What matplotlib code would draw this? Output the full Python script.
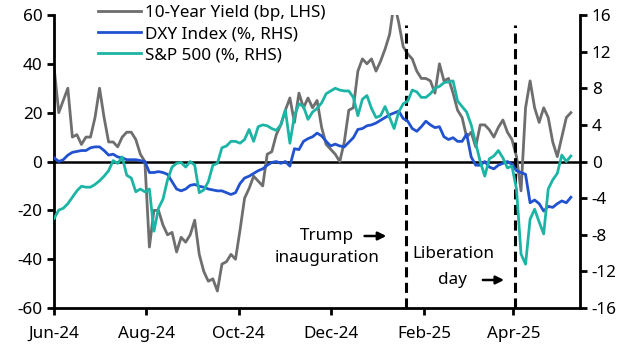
import pandas as pd
import matplotlib.pyplot as plt
import matplotlib.dates as mdates

plt.rcParams['font.family'] = ['Noto Sans', 'DejaVu Sans']
plt.rcParams['axes.unicode_minus'] = False

# data (sampled every 3 days from 1 Jun 2024)
dates = pd.date_range('2024-06-01', periods=115, freq='3D')

yield_bp = [38, 20, 25, 30, 10, 11, 7, 10, 10, 18,
            30, 18, 8, 8, 6, 10, 12, 12, 9, 3,
            0, -35, -20, -20, -26, -30, -29, -37, -31, -33,
            -30, -24, -38, -45, -49, -48, -53, -42, -41, -38,
            -40, -28, -15, -11, -6, -8, -10, 3, 4, 11,
            15, 21, 26, 16, 28, 22, 26, 22, 25, 14,
            7, 5, 3, 0, 8, 21, 22, 37, 42, 40,
            42, 37, 41, 46, 52, 65, 57, 47, 44, 42,
            37, 34, 34, 33, 28, 40, 33, 34, 28, 21,
            18, 10, 12, 6, 15, 15, 13, 10, 14, 17,
            12, 9, 2, -12, 22, 33, 22, 16, 22, 18,
            8, 2, 10, 18, 20]

dxy = [0.4, 0.0, 0.2, 0.7, 1.0, 1.1, 1.2, 1.2, 1.5, 1.6,
       1.6, 1.2, 0.7, 0.8, 0.5, 0.4, 0.2, 0.2, 0.2, 0.1,
       0.0, -1.2, -1.2, -1.1, -1.2, -1.4, -2.2, -3.0, -3.2, -3.0,
       -2.6, -2.5, -2.7, -2.8, -3.0, -3.1, -3.2, -3.2, -3.4, -3.6,
       -3.4, -2.4, -1.8, -1.6, -1.3, -1.0, -0.8, -0.4, -0.1, 0.0,
       -0.2, 0.0, -0.5, 1.4, 1.3, 2.2, 2.5, 2.7, 3.1, 2.8,
       2.2, 1.7, 1.9, 1.7, 1.6, 2.1, 2.6, 3.5, 3.6, 3.9,
       4.0, 4.2, 4.5, 4.8, 5.1, 5.3, 5.5, 4.7, 4.4, 3.6,
       3.3, 3.8, 4.4, 4.0, 3.7, 3.8, 2.7, 2.4, 2.6, 2.2,
       2.2, 3.0, 0.5, -0.4, -0.4, 0.0, -0.6, -0.8, -0.4, -0.2,
       0.0, -0.3, -1.0, -1.2, -1.4, -4.5, -4.2, -4.6, -5.4, -4.9,
       -5.0, -4.6, -4.3, -4.5, -3.9]

spx = [-6.2, -5.3, -5.1, -4.6, -3.9, -3.2, -2.7, -2.8, -2.8, -2.5,
       -2.1, -1.6, -1.0, 0.1, -0.2, 0.5, -1.5, -1.8, -3.3, -3.0,
       -3.3, -3.0, -7.6, -5.1, -4.1, -2.0, -0.6, -0.2, -0.1, -0.6,
       0.0, -0.4, -3.4, -3.1, -2.2, -0.4, -0.2, 1.5, 1.7, 2.2,
       2.2, 2.0, 2.4, 3.5, 2.2, 3.8, 4.0, 3.9, 3.6, 3.4,
       4.0, 5.6, 2.0, 5.0, 6.3, 6.0, 4.6, 5.4, 5.8, 6.4,
       7.4, 7.7, 8.0, 7.8, 7.7, 7.7, 7.0, 5.0, 6.8, 7.2,
       5.8, 4.8, 5.0, 6.0, 4.8, 3.6, 5.4, 6.3, 6.6, 7.8,
       7.6, 7.0, 7.0, 7.4, 8.0, 8.2, 8.6, 8.7, 8.8, 6.6,
       6.0, 5.4, 4.0, 2.0, 0.0, -1.6, 0.3, 0.6, 1.2, 0.4,
       -0.7, -0.5, -3.0, -10.1, -11.2, -6.3, -5.2, -6.6, -7.9, -3.0,
       -2.0, -1.3, 0.7, 0.0, 0.6]

events = ['2025-01-20', '2025-04-02']
x_ticks = ['2024-06-01', '2024-08-01', '2024-10-01', '2024-12-01', '2025-02-01', '2025-04-01']

fs = 12.3

# plot
fig, ax = plt.subplots(figsize=(6.38, 3.55), dpi=100)
fig.subplots_adjust(left=0.085, right=0.909, bottom=0.132, top=0.958)
ax2 = ax.twinx()

l1, = ax.plot(dates, yield_bp, color='#6e6e6e', lw=2, label='10-Year Yield (bp, LHS)')
l2, = ax2.plot(dates, dxy, color='#2152cf', lw=2, label='DXY Index (%, RHS)')
l3, = ax2.plot(dates, spx, color='#1cb5a5', lw=2, label='S&P 500 (%, RHS)')

ax.set_ylim(-60, 60)
ax.set_yticks(range(-60, 61, 20))
ax2.set_ylim(-16, 16)
ax2.set_yticks(range(-16, 17, 4))
ax.set_xlim(pd.Timestamp('2024-06-01'), pd.Timestamp('2025-05-15'))
ax.set_xticks(pd.to_datetime(x_ticks))
ax.xaxis.set_major_formatter(mdates.DateFormatter('%b-%y'))
ax.axhline(0, color='black', lw=1.8, zorder=1)

# event lines stop a little below the top
ax.vlines(pd.to_datetime(events), -60, 56, color='black', lw=2.2, linestyle=(0, (3.3, 1.8)))

for a in (ax, ax2):
    a.spines['top'].set_visible(False)
    for s in ('left', 'right', 'bottom'):
        a.spines[s].set_linewidth(2)
    a.tick_params(labelsize=fs, width=2, length=5)
ax.spines['right'].set_visible(False)
ax2.spines['left'].set_visible(False)
ax2.spines['bottom'].set_visible(False)
ax.tick_params(axis='x', pad=8)

ax.legend(handles=[l1, l2, l3], loc='upper left', bbox_to_anchor=(0.07, 1.057),
          frameon=False, fontsize=fs, handlelength=2.5, labelspacing=0.3,
          handletextpad=0.25, borderaxespad=0)

# annotations
ax.text(0.519, 0.246, 'Trump', transform=ax.transAxes, ha='center', va='center', fontsize=fs)
ax.text(0.519, 0.171, 'inauguration', transform=ax.transAxes, ha='center', va='center', fontsize=fs)
ax.annotate('', xy=(0.637, 0.246), xytext=(0.585, 0.246), xycoords='axes fraction',
            arrowprops=dict(arrowstyle='-|>', color='black', lw=1.8, mutation_scale=12))
ax.text(0.759, 0.184, 'Liberation', transform=ax.transAxes, ha='center', va='center', fontsize=fs)
ax.text(0.757, 0.096, 'day', transform=ax.transAxes, ha='center', va='center', fontsize=fs)
ax.annotate('', xy=(0.861, 0.096), xytext=(0.81, 0.096), xycoords='axes fraction',
            arrowprops=dict(arrowstyle='-|>', color='black', lw=1.8, mutation_scale=12))

fig.savefig('out.png', dpi=100)
